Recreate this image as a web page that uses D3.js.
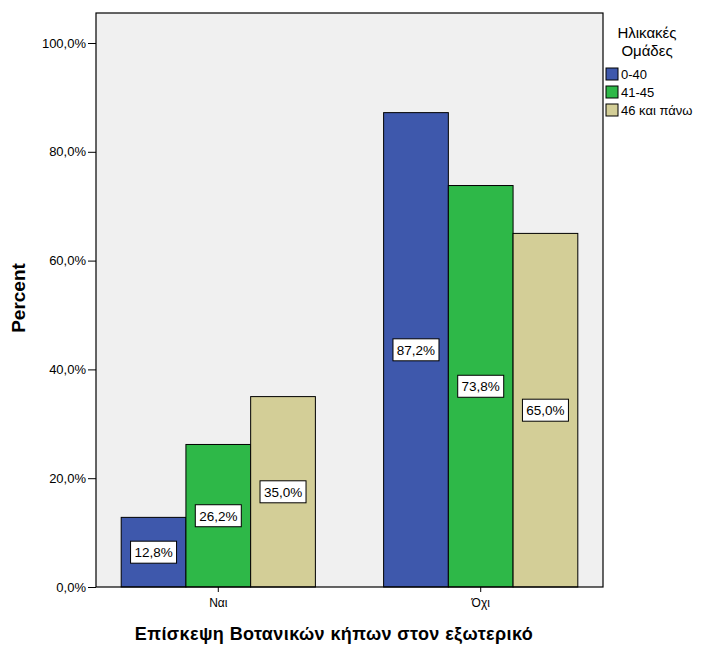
<!DOCTYPE html>
<html>
<head>
<meta charset="utf-8">
<script src="https://cdn.jsdelivr.net/npm/d3@7"></script>
<style>
  body { margin: 0; background: #fff; }
  text { font-family: Arial, "Liberation Sans", sans-serif; }
</style>
</head>
<body>
<svg id="chart" width="704" height="645"></svg>
<script>
// Visits to botanical gardens abroad, by age group (percent within group)
const categories = ["Ναι", "Όχι"];
const groups = ["0-40", "41-45", "46 και πάνω"];
const values0to40 = [12.8, 87.2];
const values41to45 = [26.2, 73.8];
const values46plus = [35.0, 65.0];
const yTicks = [0, 20, 40, 60, 80, 100];
const colors = ["#3E58AC", "#2EB848", "#D3CE97"];

const series = [values0to40, values41to45, values46plus];

const svg = d3.select("#chart");
const plot = { left: 96, right: 603, top: 13, bottom: 587 };

const x0 = d3.scaleBand()
  .domain(categories)
  .range([plot.left, plot.right])
  .paddingInner(0.26)
  .paddingOuter(0.096);

const x1 = d3.scaleBand()
  .domain(groups)
  .range([0, x0.bandwidth()]);

const y = d3.scaleLinear()
  .domain([0, 100])
  .range([plot.bottom, 43]);

const fmt = v => d3.format(".1f")(v).replace(".", ",") + "%";

// Plot background
svg.append("rect")
  .attr("x", plot.left).attr("y", plot.top)
  .attr("width", plot.right - plot.left)
  .attr("height", plot.bottom - plot.top)
  .attr("fill", "#F0F0F0");

// Bars
const catG = svg.selectAll("g.cat")
  .data(categories)
  .join("g")
  .attr("class", "cat")
  .attr("transform", d => `translate(${x0(d)},0)`);

catG.each(function(cat, ci) {
  const g = d3.select(this);
  groups.forEach((grp, gi) => {
    const v = series[gi][ci];
    g.append("rect")
      .attr("x", x1(grp))
      .attr("y", y(v))
      .attr("width", x1.bandwidth())
      .attr("height", y(0) - y(v))
      .attr("fill", colors[gi])
      .attr("stroke", "#000")
      .attr("stroke-width", 1);
  });
});

// Value labels in white boxes at bar mid-height
catG.each(function(cat, ci) {
  const g = d3.select(this);
  groups.forEach((grp, gi) => {
    const v = series[gi][ci];
    const cx = x1(grp) + x1.bandwidth() / 2;
    const cy = (y(v) + y(0)) / 2;
    const lg = g.append("g").attr("transform", `translate(${cx},${cy})`);
    lg.append("rect")
      .attr("x", -23).attr("y", -11)
      .attr("width", 46).attr("height", 22)
      .attr("fill", "#fff")
      .attr("stroke", "#000")
      .attr("stroke-width", 1);
    lg.append("text")
      .attr("text-anchor", "middle")
      .attr("dy", "0.36em")
      .attr("font-size", 13.5)
      .attr("fill", "#000")
      .text(fmt(v));
  });
});

// Frame
svg.append("rect")
  .attr("x", plot.left).attr("y", plot.top)
  .attr("width", plot.right - plot.left)
  .attr("height", plot.bottom - plot.top)
  .attr("fill", "none")
  .attr("stroke", "#000")
  .attr("stroke-width", 1.2);

// Y axis
const yAxis = d3.axisLeft(y)
  .tickValues(yTicks)
  .tickSize(8)
  .tickPadding(2)
  .tickFormat(fmt);
const yG = svg.append("g")
  .attr("transform", `translate(${plot.left},0)`)
  .call(yAxis);
yG.select(".domain").remove();
yG.selectAll("text").attr("font-size", 13).attr("fill", "#000")
  .style("font-family", "Arial, 'Liberation Sans', sans-serif");
yG.selectAll("line").attr("stroke", "#000");

// X axis
const xAxis = d3.axisBottom(x0).tickSize(5).tickPadding(6);
const xG = svg.append("g")
  .attr("transform", `translate(0,${plot.bottom})`)
  .call(xAxis);
xG.select(".domain").remove();
xG.selectAll("text").attr("font-size", 12).attr("fill", "#000")
  .style("font-family", "Arial, 'Liberation Sans', sans-serif");
xG.selectAll("line").attr("stroke", "#000");

// Axis titles
svg.append("text")
  .attr("transform", "translate(25,298) rotate(-90)")
  .attr("text-anchor", "middle")
  .attr("font-size", 19)
  .attr("font-weight", "bold")
  .text("Percent");

svg.append("text")
  .attr("x", 334).attr("y", 640)
  .attr("text-anchor", "middle")
  .attr("font-size", 18)
  .attr("letter-spacing", 0.4)
  .attr("font-weight", "bold")
  .text("Επίσκεψη Βοτανικών κήπων στον εξωτερικό");

// Legend
const legend = svg.append("g");
legend.append("text")
  .attr("x", 647).attr("y", 38)
  .attr("text-anchor", "middle")
  .attr("font-size", 15)
  .text("Ηλικακές");
legend.append("text")
  .attr("x", 647).attr("y", 56)
  .attr("text-anchor", "middle")
  .attr("font-size", 15)
  .text("Ομάδες");

groups.forEach((grp, i) => {
  const ly = 68 + i * 18;
  legend.append("rect")
    .attr("x", 606).attr("y", ly)
    .attr("width", 12).attr("height", 12)
    .attr("fill", colors[i])
    .attr("stroke", "#000")
    .attr("stroke-width", 1);
  legend.append("text")
    .attr("x", 621).attr("y", ly + 11)
    .attr("font-size", 13)
    .text(grp);
});
</script>
</body>
</html>
